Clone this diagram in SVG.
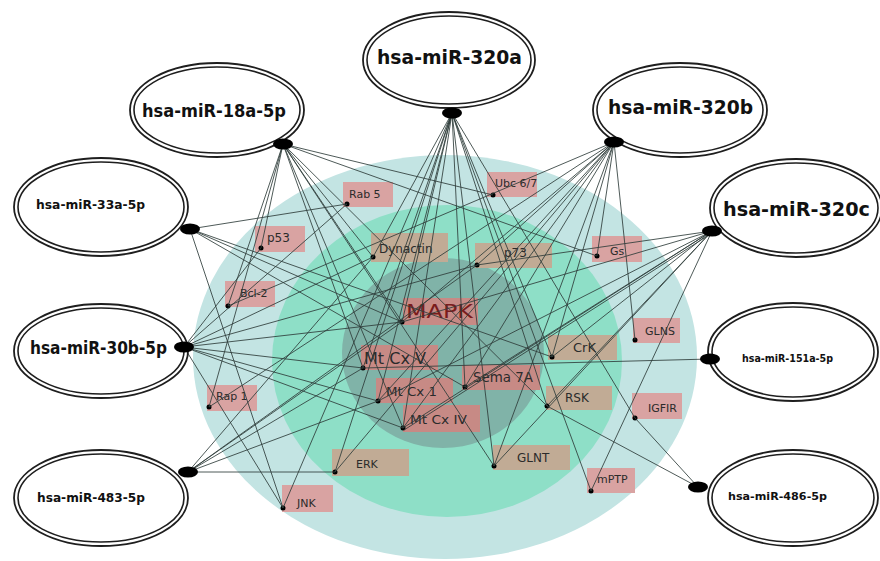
<svg xmlns="http://www.w3.org/2000/svg" width="880" height="561" viewBox="0 0 880 561">
<style>
.mir-o{fill:#fff;stroke:#1e1e1e;stroke-width:1.8}
.mir-i{fill:none;stroke:#1e1e1e;stroke-width:1.6}
.mir-t{font-family:"DejaVu Sans",Verdana,sans-serif;font-weight:bold;fill:#111}
.hub{fill:#000}
.pk{fill:#d9a3a2}
.tn{fill:#c1ab95}
.ik{fill:#c78a85}
.gt{font-family:"DejaVu Sans",Verdana,sans-serif;fill:#2b2b2b}
.dot{fill:#000}
#edges line{stroke:#2f3d3b;stroke-width:1;stroke-opacity:0.85}
</style>
<rect width="880" height="561" fill="#fff"/>
<g id="zones">
<ellipse cx="445" cy="357" rx="252" ry="202" fill="#c3e4e3"/>
<ellipse cx="447" cy="361" rx="175" ry="156" fill="#8edfc7"/>
<ellipse cx="443" cy="353" rx="101" ry="95" fill="#80b3a8"/>
</g>
<g id="genes">
<g id="g-rab5"><rect class="pk" x="343" y="182" width="50" height="25"/><text class="gt" x="349" y="198" font-size="11">Rab 5</text><circle class="dot" cx="347" cy="204" r="2.5"/></g>
<g id="g-p53"><rect class="pk" x="255" y="226" width="50" height="26"/><text class="gt" x="267" y="242" font-size="12">p53</text><circle class="dot" cx="261" cy="248" r="2.5"/></g>
<g id="g-dynactin"><rect class="tn" x="371" y="233" width="77" height="29"/><text class="gt" x="379" y="253" font-size="12">Dynactin</text><circle class="dot" cx="373" cy="257" r="2.5"/></g>
<g id="g-ubc"><rect class="pk" x="487" y="172" width="50" height="25"/><text class="gt" x="495" y="187" font-size="11">Ubc 6/7</text><circle class="dot" cx="493" cy="195" r="2.5"/></g>
<g id="g-p73"><rect class="tn" x="475" y="243" width="77" height="25"/><text class="gt" x="504" y="257" font-size="12">p73</text><circle class="dot" cx="477" cy="265" r="2.5"/></g>
<g id="g-gs"><rect class="pk" x="592" y="236" width="50" height="26"/><text class="gt" x="610" y="255" font-size="11">Gs</text><circle class="dot" cx="597" cy="256" r="2.5"/></g>
<g id="g-bcl2"><rect class="pk" x="225" y="281" width="50" height="26"/><text class="gt" x="240" y="297" font-size="11">Bcl-2</text><circle class="dot" cx="228" cy="306" r="2.5"/></g>
<g id="g-rap1"><rect class="pk" x="207" y="385" width="50" height="26"/><text class="gt" x="216" y="400" font-size="11">Rap 1</text><circle class="dot" cx="209" cy="407" r="2.5"/></g>
<g id="g-jnk"><rect class="pk" x="282" y="485" width="51" height="27"/><text class="gt" x="297" y="507" font-size="11">JNK</text><circle class="dot" cx="283" cy="508" r="2.5"/></g>
<g id="g-erk"><rect class="tn" x="332" y="449" width="77" height="27"/><text class="gt" x="356" y="468" font-size="11">ERK</text><circle class="dot" cx="335" cy="472" r="2.5"/></g>
<g id="g-mapk"><rect class="ik" x="403" y="298" width="75" height="27"/><text x="406" y="318" font-size="19" font-family="DejaVu Sans,Verdana,sans-serif" fill="#7a1c1c" textLength="67" lengthAdjust="spacingAndGlyphs">MAPK</text><circle class="dot" cx="402" cy="322" r="2.5"/></g>
<g id="g-mtcxv"><rect class="ik" x="361" y="345" width="77" height="25"/><text class="gt" x="364" y="364" font-size="16" fill="#2a1414" textLength="62" lengthAdjust="spacingAndGlyphs">Mt Cx V</text><circle class="dot" cx="363" cy="368" r="2.5"/></g>
<g id="g-mtcx1"><rect class="ik" x="376" y="378" width="77" height="25"/><text class="gt" x="386" y="396" font-size="13" fill="#2a1414" textLength="51" lengthAdjust="spacingAndGlyphs">Mt Cx 1</text><circle class="dot" cx="378" cy="401" r="2.5"/></g>
<g id="g-mtcxiv"><rect class="ik" x="403" y="405" width="77" height="27"/><text class="gt" x="410" y="424" font-size="13" fill="#2a1414" textLength="57" lengthAdjust="spacingAndGlyphs">Mt Cx IV</text><circle class="dot" cx="403" cy="428" r="2.5"/></g>
<g id="g-sema"><rect class="ik" x="462" y="365" width="78" height="25"/><text class="gt" x="473" y="382" font-size="14" fill="#2a1414" textLength="60" lengthAdjust="spacingAndGlyphs">Sema 7A</text><circle class="dot" cx="465" cy="387" r="2.5"/></g>
<g id="g-crk"><rect class="tn" x="548" y="335" width="69" height="25"/><text class="gt" x="573" y="352" font-size="13">CrK</text><circle class="dot" cx="552" cy="357" r="2.5"/></g>
<g id="g-rsk"><rect class="tn" x="546" y="386" width="66" height="24"/><text class="gt" x="565" y="402" font-size="12">RSK</text><circle class="dot" cx="547" cy="406" r="2.5"/></g>
<g id="g-glns"><rect class="pk" x="633" y="318" width="47" height="25"/><text class="gt" x="645" y="335" font-size="11">GLNS</text><circle class="dot" cx="635" cy="340" r="2.5"/></g>
<g id="g-igfir"><rect class="pk" x="632" y="393" width="50" height="26"/><text class="gt" x="648" y="412" font-size="11">IGFIR</text><circle class="dot" cx="635" cy="418" r="2.5"/></g>
<g id="g-glnt"><rect class="tn" x="493" y="445" width="77" height="25"/><text class="gt" x="517" y="462" font-size="12">GLNT</text><circle class="dot" cx="494" cy="466" r="2.5"/></g>
<g id="g-mptp"><rect class="pk" x="587" y="468" width="48" height="25"/><text class="gt" x="597" y="483" font-size="11">mPTP</text><circle class="dot" cx="591" cy="491" r="2.5"/></g>
</g>
<g id="edges">
<line x1="283" y1="144" x2="493" y2="195"/>
<line x1="283" y1="144" x2="597" y2="256"/>
<line x1="283" y1="144" x2="261" y2="248"/>
<line x1="283" y1="144" x2="228" y2="306"/>
<line x1="283" y1="144" x2="209" y2="407"/>
<line x1="283" y1="144" x2="373" y2="257"/>
<line x1="283" y1="144" x2="402" y2="322"/>
<line x1="283" y1="144" x2="363" y2="368"/>
<line x1="283" y1="144" x2="403" y2="428"/>
<line x1="283" y1="144" x2="494" y2="466"/>
<line x1="283" y1="144" x2="547" y2="406"/>
<line x1="452" y1="113" x2="402" y2="322"/>
<line x1="452" y1="113" x2="363" y2="368"/>
<line x1="452" y1="113" x2="378" y2="401"/>
<line x1="452" y1="113" x2="403" y2="428"/>
<line x1="452" y1="113" x2="335" y2="472"/>
<line x1="452" y1="113" x2="465" y2="387"/>
<line x1="452" y1="113" x2="494" y2="466"/>
<line x1="452" y1="113" x2="547" y2="406"/>
<line x1="452" y1="113" x2="552" y2="357"/>
<line x1="452" y1="113" x2="591" y2="491"/>
<line x1="452" y1="113" x2="635" y2="418"/>
<line x1="452" y1="113" x2="373" y2="257"/>
<line x1="452" y1="113" x2="283" y2="508"/>
<line x1="614" y1="142" x2="477" y2="265"/>
<line x1="614" y1="142" x2="402" y2="322"/>
<line x1="614" y1="142" x2="465" y2="387"/>
<line x1="614" y1="142" x2="403" y2="428"/>
<line x1="614" y1="142" x2="378" y2="401"/>
<line x1="614" y1="142" x2="335" y2="472"/>
<line x1="614" y1="142" x2="228" y2="306"/>
<line x1="614" y1="142" x2="494" y2="466"/>
<line x1="614" y1="142" x2="597" y2="256"/>
<line x1="614" y1="142" x2="635" y2="340"/>
<line x1="614" y1="142" x2="552" y2="357"/>
<line x1="614" y1="142" x2="209" y2="407"/>
<line x1="712" y1="231" x2="477" y2="265"/>
<line x1="712" y1="231" x2="402" y2="322"/>
<line x1="712" y1="231" x2="552" y2="357"/>
<line x1="712" y1="231" x2="465" y2="387"/>
<line x1="712" y1="231" x2="403" y2="428"/>
<line x1="712" y1="233" x2="404" y2="430"/>
<line x1="712" y1="231" x2="378" y2="401"/>
<line x1="712" y1="231" x2="547" y2="406"/>
<line x1="712" y1="231" x2="591" y2="491"/>
<line x1="712" y1="231" x2="494" y2="466"/>
<line x1="710" y1="359" x2="363" y2="368"/>
<line x1="698" y1="487" x2="547" y2="406"/>
<line x1="698" y1="487" x2="635" y2="418"/>
<line x1="184" y1="347" x2="261" y2="248"/>
<line x1="184" y1="347" x2="347" y2="204"/>
<line x1="184" y1="347" x2="373" y2="257"/>
<line x1="184" y1="347" x2="477" y2="265"/>
<line x1="184" y1="347" x2="402" y2="322"/>
<line x1="184" y1="347" x2="363" y2="368"/>
<line x1="184" y1="347" x2="378" y2="401"/>
<line x1="184" y1="347" x2="403" y2="428"/>
<line x1="184" y1="347" x2="283" y2="508"/>
<line x1="188" y1="472" x2="335" y2="472"/>
<line x1="188" y1="472" x2="378" y2="401"/>
<line x1="188" y1="472" x2="363" y2="368"/>
<line x1="188" y1="472" x2="402" y2="322"/>
<line x1="188" y1="472" x2="373" y2="257"/>
<line x1="188" y1="472" x2="477" y2="265"/>
<line x1="190" y1="229" x2="347" y2="204"/>
<line x1="190" y1="229" x2="283" y2="508"/>
<line x1="190" y1="229" x2="402" y2="322"/>
<line x1="190" y1="229" x2="552" y2="357"/>
<line x1="190" y1="229" x2="465" y2="387"/>
</g>
<g id="mirnas">
<g id="m-320a"><ellipse class="mir-o" cx="449" cy="60" rx="86" ry="48"/><ellipse class="mir-i" cx="449" cy="60" rx="82" ry="44"/><text class="mir-t" x="377" y="64" font-size="19" textLength="145" lengthAdjust="spacingAndGlyphs">hsa-miR-320a</text><ellipse class="hub" cx="452" cy="113" rx="10" ry="5.5"/></g>
<g id="m-18a"><ellipse class="mir-o" cx="217" cy="110" rx="87" ry="47"/><ellipse class="mir-i" cx="217" cy="110" rx="83" ry="43"/><text class="mir-t" x="142" y="117" font-size="17" textLength="144" lengthAdjust="spacingAndGlyphs">hsa-miR-18a-5p</text><ellipse class="hub" cx="283" cy="144" rx="10" ry="5.5"/></g>
<g id="m-33a"><ellipse class="mir-o" cx="101" cy="207" rx="87" ry="49"/><ellipse class="mir-i" cx="101" cy="207" rx="83" ry="45"/><text class="mir-t" x="36" y="209" font-size="13" textLength="109" lengthAdjust="spacingAndGlyphs">hsa-miR-33a-5p</text><ellipse class="hub" cx="190" cy="229" rx="10" ry="5.5"/></g>
<g id="m-30b"><ellipse class="mir-o" cx="101" cy="351" rx="87" ry="47"/><ellipse class="mir-i" cx="101" cy="351" rx="83" ry="43"/><text class="mir-t" x="30" y="354" font-size="18" textLength="137" lengthAdjust="spacingAndGlyphs">hsa-miR-30b-5p</text><ellipse class="hub" cx="184" cy="347" rx="10" ry="5.5"/></g>
<g id="m-483"><ellipse class="mir-o" cx="101" cy="498" rx="87" ry="48"/><ellipse class="mir-i" cx="101" cy="498" rx="83" ry="44"/><text class="mir-t" x="37" y="502" font-size="13" textLength="108" lengthAdjust="spacingAndGlyphs">hsa-miR-483-5p</text><ellipse class="hub" cx="188" cy="472" rx="10" ry="5.5"/></g>
<g id="m-320b"><ellipse class="mir-o" cx="680" cy="110" rx="87" ry="47"/><ellipse class="mir-i" cx="680" cy="110" rx="83" ry="43"/><text class="mir-t" x="608" y="114" font-size="19" textLength="145" lengthAdjust="spacingAndGlyphs">hsa-miR-320b</text><ellipse class="hub" cx="614" cy="142" rx="10" ry="5.5"/></g>
<g id="m-320c"><ellipse class="mir-o" cx="796" cy="208" rx="86" ry="49"/><ellipse class="mir-i" cx="796" cy="208" rx="82" ry="45"/><text class="mir-t" x="723" y="216" font-size="19" textLength="147" lengthAdjust="spacingAndGlyphs">hsa-miR-320c</text><ellipse class="hub" cx="712" cy="231" rx="10" ry="5.5"/></g>
<g id="m-151a"><ellipse class="mir-o" cx="793" cy="352" rx="85" ry="49"/><ellipse class="mir-i" cx="793" cy="352" rx="81" ry="45"/><text class="mir-t" x="742" y="362" font-size="11" textLength="91" lengthAdjust="spacingAndGlyphs">hsa-miR-151a-5p</text><ellipse class="hub" cx="710" cy="359" rx="10" ry="5.5"/></g>
<g id="m-486"><ellipse class="mir-o" cx="793" cy="498" rx="85" ry="48"/><ellipse class="mir-i" cx="793" cy="498" rx="81" ry="44"/><text class="mir-t" x="728" y="500" font-size="11" textLength="99" lengthAdjust="spacingAndGlyphs">hsa-miR-486-5p</text><ellipse class="hub" cx="698" cy="487" rx="10" ry="5.5"/></g>
</g>
</svg>
